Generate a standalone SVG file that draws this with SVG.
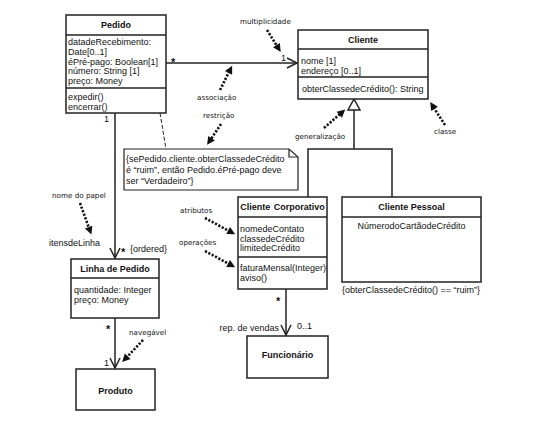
<svg xmlns="http://www.w3.org/2000/svg" width="539" height="421" viewBox="0 0 539 421">
<style>
.box{fill:#fff;stroke:#222;stroke-width:1.5}
.ln{fill:none;stroke:#222;stroke-width:1.5}
.t{font-family:"Liberation Sans",Arial,sans-serif;font-size:9px;fill:#111}
.b{font-family:"Liberation Sans",Arial,sans-serif;font-size:9px;font-weight:bold;fill:#111}
.c{text-anchor:middle}
.star{font-family:"Liberation Sans",Arial,sans-serif;font-size:11px;font-weight:bold;fill:#111}
.h{font-family:"DejaVu Sans",sans-serif;font-size:7.2px;fill:#111}
.dot{fill:none;stroke:#111;stroke-width:2.6;stroke-dasharray:2.2 1.6}
</style>
<defs>
<marker id="open" markerUnits="userSpaceOnUse" markerWidth="12" markerHeight="12" refX="10" refY="5" orient="auto" overflow="visible">
<path d="M0,0 L10,5 L0,10" fill="none" stroke="#222" stroke-width="1.5"/>
</marker>
<marker id="fill" markerUnits="userSpaceOnUse" markerWidth="9" markerHeight="9" refX="1" refY="4" orient="auto" overflow="visible">
<path d="M0,0 L8,4 L0,8 z" fill="#111"/>
</marker>
</defs>
<rect width="539" height="421" fill="#fff"/>

<g id="connectors">
<line class="ln" x1="166" y1="63" x2="297" y2="63" marker-end="url(#open)"/>
<line class="ln" x1="115" y1="113" x2="115" y2="258" marker-end="url(#open)"/>
<line class="ln" x1="115" y1="318" x2="115" y2="368" marker-end="url(#open)"/>
<line class="ln" x1="286" y1="289" x2="286" y2="335" marker-end="url(#open)"/>
<path class="ln" d="M308,197 V149 H392 V197 M354,149 V110"/>
<path d="M354,99 L348,110 L360,110 z" fill="#fff" stroke="#222" stroke-width="1.5"/>
<line x1="160" y1="113" x2="166" y2="149" stroke="#222" stroke-width="1" stroke-dasharray="4 2"/>
<text class="star" x="171" y="66">*</text>
<text class="t" x="281" y="61">1</text>
<text class="t" x="104" y="122">1</text>
<text class="star" x="121" y="256">*</text>
<text class="t" x="130" y="252">{ordered}</text>
<text class="star" x="106" y="333">*</text>
<text class="t" x="104" y="366">1</text>
<text class="star" x="276" y="305">*</text>
<text class="t" x="297" y="329">0..1</text>
<text class="t" x="279" y="331" text-anchor="end">rep. de vendas</text>
<text class="t" x="49" y="246">itensdeLinha</text>
</g>

<g id="annotations">
<text class="h" x="240" y="24">multiplicidade</text>
<line class="dot" x1="267" y1="30" x2="277" y2="46" marker-end="url(#fill)"/>
<text class="h" x="197" y="100">associação</text>
<line class="dot" x1="220" y1="90" x2="229" y2="72" marker-end="url(#fill)"/>
<text class="h" x="203" y="118">restrição</text>
<line class="dot" x1="221" y1="124" x2="211" y2="139" marker-end="url(#fill)"/>
<text class="h" x="295" y="139">generalização</text>
<line class="dot" x1="324" y1="128" x2="340" y2="114" marker-end="url(#fill)"/>
<text class="h" x="434" y="134">classe</text>
<line class="dot" x1="445" y1="125" x2="434" y2="108" marker-end="url(#fill)"/>
<text class="h" x="52" y="198">nome do papel</text>
<line class="dot" x1="80" y1="203" x2="89" y2="228" marker-end="url(#fill)"/>
<text class="h" x="180" y="213">atributos</text>
<line class="dot" x1="205" y1="218" x2="229" y2="231" marker-end="url(#fill)"/>
<text class="h" x="179" y="245">operações</text>
<line class="dot" x1="205" y1="251" x2="229" y2="264" marker-end="url(#fill)"/>
<text class="h" x="129" y="335">navegável</text>
<line class="dot" x1="143" y1="340" x2="127" y2="357" marker-end="url(#fill)"/>
</g>

<g id="pedido">
<rect class="box" x="66" y="15" width="100" height="98"/>
<line class="ln" x1="66" y1="35" x2="166" y2="35"/>
<line class="ln" x1="66" y1="88" x2="166" y2="88"/>
<text class="b c" x="116" y="28">Pedido</text>
<text class="t" x="68" y="45">datadeRecebimento:</text>
<text class="t" x="68" y="55">Date[0..1]</text>
<text class="t" x="68" y="64.5">éPré-pago: Boolean[1]</text>
<text class="t" x="68" y="74">número: String [1]</text>
<text class="t" x="68" y="84">preço: Money</text>
<text class="t" x="68" y="100">expedir()</text>
<text class="t" x="68" y="110">encerrar()</text>
</g>

<g id="cliente">
<rect class="box" x="298" y="30" width="130" height="69"/>
<line class="ln" x1="298" y1="49" x2="428" y2="49"/>
<line class="ln" x1="298" y1="77" x2="428" y2="77"/>
<text class="b c" x="363" y="43">Cliente</text>
<text class="t" x="301" y="64">nome [1]</text>
<text class="t" x="301" y="74">endereço [0..1]</text>
<text class="t" x="302" y="92">obterClassedeCrédito(): String</text>
</g>

<g id="nota">
<path d="M124,149 H289 L298,157 V190 H124 z" fill="#fff" stroke="#222" stroke-width="1.2"/>
<path d="M289,149 V157 H298" fill="none" stroke="#222" stroke-width="1.2"/>
<text class="t" x="126" y="162">{sePedido.cliente.obterClassedeCrédito</text>
<text class="t" x="126" y="173">é “ruim”, então Pedido.éPré-pago deve</text>
<text class="t" x="126" y="183.5">ser “Verdadeiro”}</text>
</g>

<g id="cliente-corporativo">
<rect class="box" x="238" y="197" width="89" height="92"/>
<line class="ln" x1="238" y1="217" x2="327" y2="217"/>
<line class="ln" x1="238" y1="257" x2="327" y2="257"/>
<text class="b c" x="282.5" y="210" word-spacing="1">Cliente Corporativo</text>
<text class="t" x="240" y="232">nomedeContato</text>
<text class="t" x="240" y="241.5">classedeCrédito</text>
<text class="t" x="240" y="251">limitedeCrédito</text>
<text class="t" x="240" y="271">faturaMensal(Integer)</text>
<text class="t" x="240" y="281">aviso()</text>
</g>

<g id="cliente-pessoal">
<rect class="box" x="342" y="197" width="139" height="85"/>
<line class="ln" x1="342" y1="217" x2="481" y2="217"/>
<text class="b c" x="411.5" y="210">Cliente Pessoal</text>
<text class="t c" x="411.5" y="229">NúmerodoCartãodeCrédito</text>
<text class="t c" x="411" y="293">{obterClassedeCrédito() == “ruim”}</text>
</g>

<g id="linha-de-pedido">
<rect class="box" x="71" y="259" width="88" height="59"/>
<line class="ln" x1="71" y1="278" x2="159" y2="278"/>
<text class="b c" x="115" y="272">Linha de Pedido</text>
<text class="t" x="74" y="293">quantidade: Integer</text>
<text class="t" x="74" y="303">preço: Money</text>
</g>

<g id="produto">
<rect class="box" x="76" y="369" width="79" height="41"/>
<text class="b c" x="115.5" y="394">Produto</text>
</g>

<g id="funcionario">
<rect class="box" x="247" y="336" width="81" height="42"/>
<text class="b c" x="287.5" y="358">Funcionário</text>
</g>
</svg>
